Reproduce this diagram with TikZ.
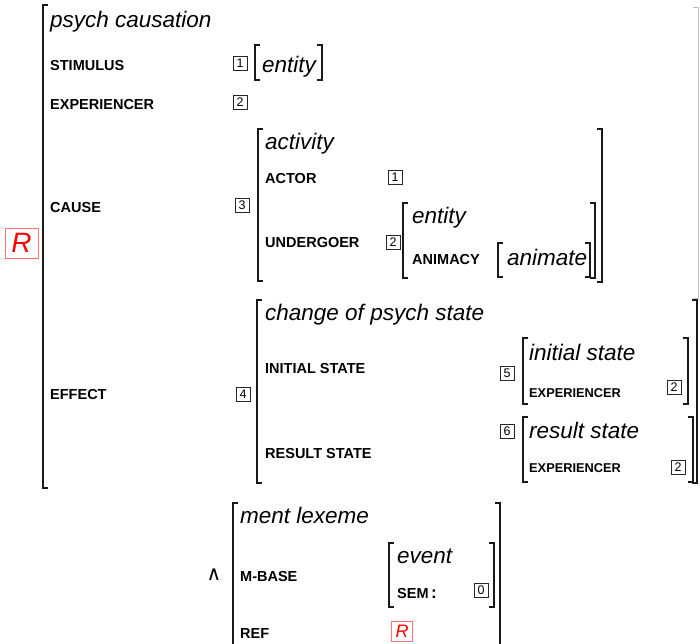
\documentclass[tikz,border=0pt]{standalone}
\usepackage{fontspec}
\setmainfont{Liberation Sans}
\newfontfamily\symfont{DejaVu Sans}
\newcommand\avmL[3]{\draw[br] ({#1+5},#2)--(#1,#2)--(#1,#3)--({#1+5},#3);}
\newcommand\avmR[3]{\draw[br] ({#1-5},#2)--(#1,#2)--(#1,#3)--({#1-5},#3);}
\begin{document}
\begin{tikzpicture}[x=1pt,y=-1pt,
  lab/.style={anchor=base west,inner sep=0pt,font=\fontsize{14.5}{14.5}\selectfont\bfseries},
  slab/.style={anchor=base west,inner sep=0pt,font=\fontsize{12.8}{12.8}\selectfont\bfseries},
  typ/.style={anchor=base west,inner sep=0pt,font=\fontsize{22.5}{22.5}\selectfont\itshape},
  tag/.style={draw=black!85,line width=0.75pt,minimum width=14pt,minimum height=14pt,inner sep=0pt,font=\fontsize{12.5}{12.5}\selectfont},
  rtag/.style={draw=red!55,line width=0.8pt,text=red,inner sep=0pt,font=\itshape},
  br/.style={line width=1.3pt,black!90}]
\useasboundingbox (0,0) rectangle (700,643);
% outer matrix
\avmL{43}{5}{488}
\draw[line width=1pt,black!25] (693,7)--(698,7)--(698,298)--(693,298);
\node[rtag,minimum width=33pt,minimum height=30pt,font=\fontsize{28}{28}\selectfont\itshape] (R) at (21.5,243) {R};
\node[typ] (pc) at (50,27) {psych causation};
\node[lab] (stim) at (50,70) {STIMULUS};
\node[tag] (t1a) at (240,63) {1};
\avmL{255}{45}{80}
\node[typ] (ent1) at (262,72) {entity};
\avmR{322}{45}{80}
\node[lab] (exp) at (50,109) {EXPERIENCER};
\node[tag] (t2a) at (240,102) {2};
\node[lab] (cause) at (50,212) {CAUSE};
\node[tag] (t3) at (242,205) {3};
% activity
\avmL{258}{129}{281}
\avmR{602}{129}{282}
\node[typ] (act) at (265,149) {activity};
\node[lab] (actor) at (265,183) {ACTOR};
\node[tag] (t1b) at (395,177) {1};
\node[lab] (und) at (265,247) {UNDERGOER};
\node[tag] (t2b) at (393,242) {2};
\avmL{403}{203}{278}
\avmR{595}{203}{278}
\node[typ] (ent2) at (412,223) {entity};
\node[lab] (anim) at (412,264) {ANIMACY};
\avmL{498}{243}{277}
\node[typ] (animate) at (507,265) {animate};
\avmR{590}{243}{277}
% effect
\node[lab] (eff) at (50,399) {EFFECT};
\node[tag] (t4) at (243,394) {4};
\avmL{257}{300}{483}
\avmR{697}{300}{483}
\node[typ] (cps) at (265,320) {change of psych state};
\node[lab] (ini) at (265,373) {INITIAL STATE};
\node[tag] (t5) at (507,373) {5};
\avmL{523}{338}{404}
\avmR{688}{338}{404}
\node[typ] (ist) at (529,360) {initial state};
\node[slab] (exp2) at (529,397) {EXPERIENCER};
\node[tag] (t2c) at (674,387) {2};
\node[lab] (res) at (265,458) {RESULT STATE};
\node[tag] (t6) at (507,431) {6};
\avmL{523}{417}{482}
\avmR{693}{417}{482}
\node[typ] (rst) at (529,438) {result state};
\node[slab] (exp3) at (529,472) {EXPERIENCER};
\node[tag] (t2d) at (678,467) {2};
% ment lexeme
\node[inner sep=0pt,font=\symfont\fontsize{20}{20}\selectfont] (and) at (214,575) {∧};
\draw[br] (238,503)--(233,503)--(233,645);
\draw[br] (495,503)--(500,503)--(500,645);
\node[typ] (ml) at (240,523) {ment lexeme};
\node[lab] (mb) at (240,581) {M-BASE};
\avmL{389}{543}{607}
\avmR{494}{543}{607}
\node[typ] (ev) at (397,563) {event};
\node[lab] (sem) at (397,598) {SEM\,\fontsize{17}{17}\selectfont:};
\node[tag] (t0) at (481,590) {0};
\node[lab] (ref) at (240,638) {REF};
\node[rtag,minimum width=21pt,minimum height=20pt,font=\fontsize{18}{18}\selectfont\itshape] (R2) at (402,631) {R};
\end{tikzpicture}
\end{document}
